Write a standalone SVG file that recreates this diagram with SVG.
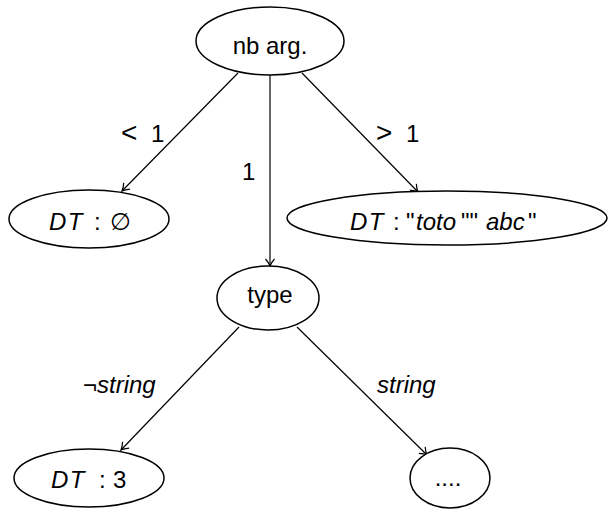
<svg xmlns="http://www.w3.org/2000/svg" width="610" height="509" viewBox="0 0 610 509">
  <style>
    .node { fill: #fff; stroke: #000; stroke-width: 1.5; }
    .edge { fill: none; stroke: #000; stroke-width: 1.2; }
    text { font-family: "Liberation Sans", "DejaVu Sans", sans-serif; fill: #000; font-size: 24px; }
    .lbl { text-anchor: middle; }
    .it { font-style: italic; }
    .dt { font-style: italic; letter-spacing: 1.5px; }
    .rel { font-size: 28px; }
  </style>
  <defs>
    <marker id="arrow" markerUnits="userSpaceOnUse" markerWidth="12" markerHeight="12" viewBox="-8 -6 10 12" refX="0" refY="0" orient="auto">
      <path d="M -7 -4.5 Q -3 -1 0 0 Q -3 1 -7 4.5" fill="none" stroke="#000" stroke-width="1.2"/>
    </marker>
  </defs>
  <rect width="610" height="509" fill="#fff"/>

  <g id="connectors">
    <line class="edge" x1="238" y1="73" x2="122" y2="191" marker-end="url(#arrow)"/>
    <line class="edge" x1="270" y1="75" x2="270" y2="266" marker-end="url(#arrow)"/>
    <line class="edge" x1="302" y1="73" x2="418" y2="192" marker-end="url(#arrow)"/>
    <line class="edge" x1="239" y1="327" x2="121" y2="450" marker-end="url(#arrow)"/>
    <line class="edge" x1="297" y1="327" x2="427" y2="455" marker-end="url(#arrow)"/>
    <text x="121" y="142"><tspan class="rel">&lt;</tspan><tspan x="151">1</tspan></text>
    <text x="242" y="180">1</text>
    <text x="376" y="142"><tspan class="rel">&gt;</tspan><tspan x="406">1</tspan></text>
    <text x="83" y="393">¬<tspan class="it">string</tspan></text>
    <text class="it" x="377" y="393">string</text>
  </g>

  <g id="nbarg">
    <ellipse class="node" cx="270" cy="41" rx="74" ry="34"/>
    <text class="lbl" x="270" y="54">nb arg.</text>
  </g>

  <g id="dt-empty">
    <ellipse class="node" cx="89" cy="219" rx="80" ry="29"/>
    <text x="49" y="230"><tspan class="dt">DT</tspan><tspan x="94">:</tspan><tspan x="110">∅</tspan></text>
  </g>

  <g id="dt-strings">
    <ellipse class="node" cx="447" cy="218" rx="160" ry="27"/>
    <text x="350" y="230"><tspan class="dt">DT</tspan><tspan x="393">:</tspan><tspan x="406">"</tspan><tspan class="it" x="416">toto</tspan><tspan x="461">""</tspan><tspan class="it" x="486">abc</tspan><tspan x="528">"</tspan></text>
  </g>

  <g id="type">
    <ellipse class="node" cx="268" cy="298" rx="51" ry="32"/>
    <text class="lbl" x="270" y="303">type</text>
  </g>

  <g id="dt-three">
    <ellipse class="node" cx="89" cy="478" rx="75" ry="29"/>
    <text x="51" y="488"><tspan class="dt">DT</tspan><tspan x="99">:</tspan><tspan x="113">3</tspan></text>
  </g>

  <g id="more">
    <ellipse class="node" cx="450" cy="478" rx="40" ry="30"/>
    <text class="lbl" x="448" y="486">....</text>
  </g>
</svg>
